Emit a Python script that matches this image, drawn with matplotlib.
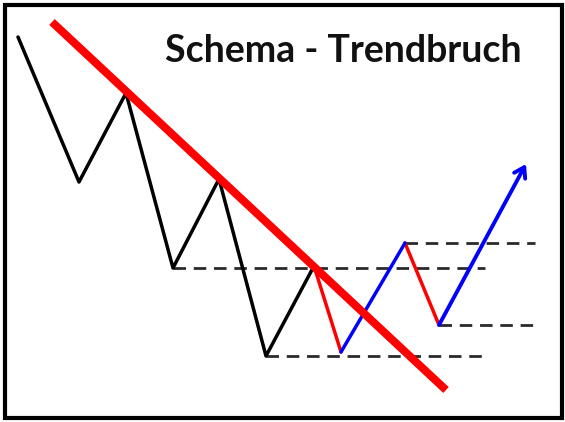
import matplotlib
matplotlib.use("Agg")
import matplotlib.pyplot as plt
from matplotlib.patches import Rectangle

# schematic points (pixel-like units, y grows downward)
zig_x = [18, 79, 126, 173, 219, 266, 314]
zig_y = [37, 182, 93, 268, 179, 356, 266]

red1_x = [314, 341]
red1_y = [266, 352]
blue1_x = [341, 405]
blue1_y = [352, 243]
red2_x = [405, 439]
red2_y = [243, 325]
arrow_start = (439, 325)
arrow_end = (526, 164)

trend_x = [52, 446]
trend_y = [22, 390]

# horizontal support/resistance levels: (y, x_start, x_end)
levels_y = [268, 356, 243, 325]
levels_x0 = [173, 266, 405, 439]
levels_x1 = [485, 485, 535, 540]

title = "Schema - Trendbruch"

fig = plt.figure(figsize=(5.65, 4.22), dpi=100)
ax = fig.add_axes([0, 0, 1, 1])
ax.set_xlim(0, 565)
ax.set_ylim(422, 0)
ax.axis("off")

# frame
ax.add_patch(Rectangle((5, 5), 557, 413, fill=False, edgecolor="black", lw=3))

dash = (0, (4.5, 2.8))
for y, x0, x1 in zip(levels_y, levels_x0, levels_x1):
    ax.plot([x0, x1], [y, y], color="#2a2a2a", lw=2.0, linestyle=dash)

ax.plot(zig_x, zig_y, color="black", lw=2.5, solid_capstyle="round")
ax.plot(red1_x, red1_y, color="red", lw=2.5, solid_capstyle="round")
ax.plot(red2_x, red2_y, color="red", lw=2.5, solid_capstyle="round")
ax.plot(blue1_x, blue1_y, color="blue", lw=2.5, solid_capstyle="round")
ax.annotate("", xy=arrow_end, xytext=arrow_start,
            arrowprops=dict(arrowstyle="->,head_length=0.7,head_width=0.45",
                            color="blue", lw=2.8, shrinkA=0, shrinkB=0))

ax.plot(trend_x, trend_y, color="red", lw=5.8, solid_capstyle="butt")

ax.text(343, 51, title, ha="center", va="center", fontsize=27,
        fontweight="bold", family=["Lato", "DejaVu Sans"], color="#111111")

fig.savefig("out.png", dpi=100)
